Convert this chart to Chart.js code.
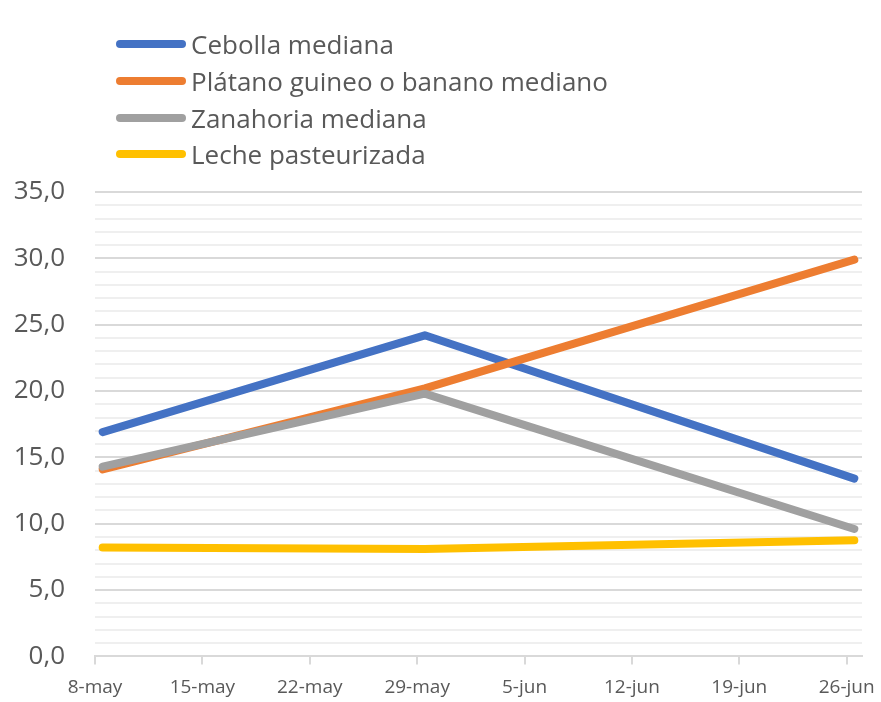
<!DOCTYPE html>
<html>
<head>
<meta charset="utf-8">
<script src="https://cdn.jsdelivr.net/npm/chart.js@4/dist/chart.umd.min.js"></script>
<style>
  html, body { margin: 0; padding: 0; background: #fff; }
  #wrap { position: relative; width: 881px; height: 702px; }
  #legend { position: absolute; left: 116px; top: 26px; font-family: "Open Sans", sans-serif; font-size: 26px; color: #595959; }
  .item { display: flex; align-items: center; height: 36.7px; }
  .swatch { width: 70px; height: 8px; border-radius: 4px; margin-right: 5px; }
</style>
</head>
<body>
<div id="wrap">
  <canvas id="mychart" width="881" height="702"></canvas>
  <div id="legend"></div>
</div>
<script>
// days counted from 8-may
const pointDays = [0, 21, 49];
const tickLabels = ['8-may', '15-may', '22-may', '29-may', '5-jun', '12-jun', '19-jun', '26-jun'];

const seriesNames = ['Cebolla mediana', 'Plátano guineo o banano mediano', 'Zanahoria mediana', 'Leche pasteurizada'];
const cebolla = [16.9, 24.2, 13.4];
const platano = [14.1, 20.2, 29.9];
const zanahoria = [14.3, 19.8, 9.6];
const leche = [8.2, 8.1, 8.75];
const colors = ['#4472C4', '#ED7D31', '#A0A0A0', '#FFC000'];

const allValues = [cebolla, platano, zanahoria, leche];

// points sit in the middle of their day, like an Excel date axis
const toPoints = vals => vals.map((v, i) => ({ x: pointDays[i] + 0.5, y: v }));

const ctx = document.getElementById('mychart').getContext('2d');
let mychart = new Chart(ctx, {
    type: 'line',
    data: {
        datasets: allValues.map((vals, i) => ({
            label: seriesNames[i],
            data: toPoints(vals),
            borderColor: colors[i],
            backgroundColor: colors[i],
            borderWidth: 8,
            borderCapStyle: 'round',
            borderJoinStyle: 'round',
            pointRadius: 0,
            tension: 0,
            order: allValues.length - i
        }))
    },
    options: {
        responsive: false,
        animation: false,
        layout: { padding: { top: 192, right: 19, bottom: 2, left: 0 } },
        plugins: { legend: { display: false }, tooltip: { enabled: false } },
        scales: {
            x: {
                type: 'linear',
                min: 0,
                max: 50,
                afterBuildTicks: scale => {
                    scale.ticks = tickLabels.map((t, i) => ({ value: i * 7 }));
                },
                afterFit: scale => {
                    scale.height = 43;
                    scale.paddingLeft = 0;
                    scale.paddingRight = 0;
                },
                ticks: {
                    autoSkip: false,
                    maxRotation: 0,
                    padding: 12,
                    color: '#595959',
                    font: { family: 'Open Sans', size: 19 },
                    callback: v => tickLabels[Math.round(v / 7)]
                },
                grid: { drawOnChartArea: false, drawTicks: true, tickLength: 8, color: '#d9d9d9', lineWidth: 2 },
                border: { display: true, color: '#d9d9d9', width: 2 }
            },
            y: {
                min: 0,
                max: 35,
                afterFit: scale => { scale.width = 95; },
                ticks: {
                    stepSize: 1,
                    autoSkip: false,
                    padding: 30,
                    color: '#595959',
                    font: { family: 'Open Sans', size: 26 },
                    callback: v => (v % 5 === 0 ? v.toFixed(1).replace('.', ',') : '')
                },
                grid: {
                    drawTicks: false,
                    lineWidth: 2,
                    color: c => (c.tick.value % 5 === 0 ? '#d9d9d9' : '#efefef')
                },
                border: { display: false }
            }
        }
    }
});

const legend = document.getElementById('legend');
seriesNames.forEach((name, i) => {
    const row = document.createElement('div');
    row.className = 'item';
    row.innerHTML = '<span class="swatch" style="background:' + colors[i] + '"></span><span>' + name + '</span>';
    legend.appendChild(row);
});
</script>
</body>
</html>
